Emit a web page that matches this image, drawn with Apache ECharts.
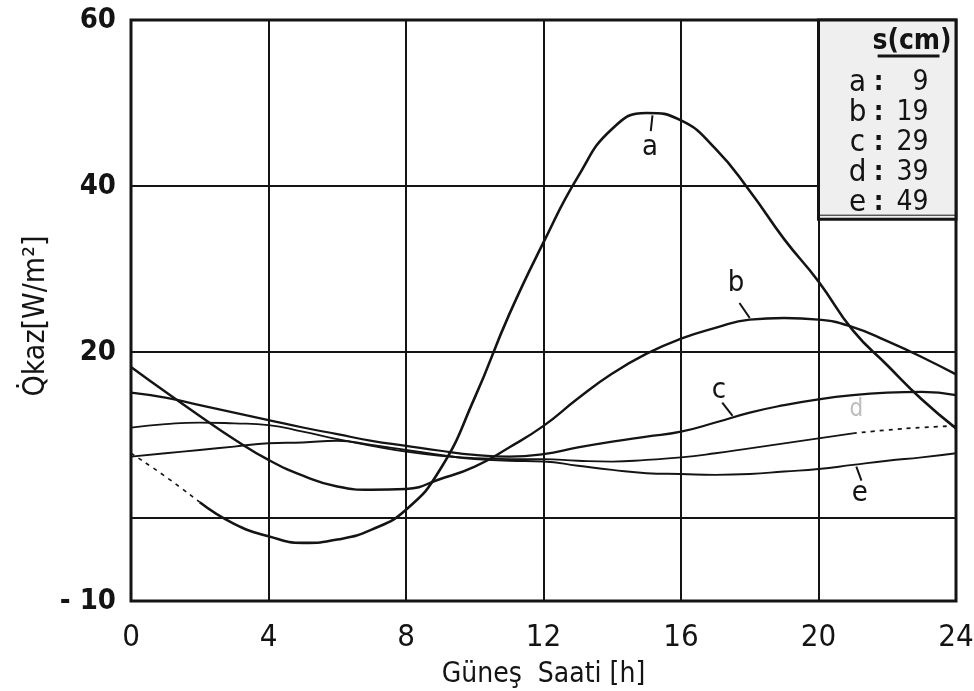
<!DOCTYPE html>
<html>
<head>
<meta charset="utf-8">
<script src="https://cdn.jsdelivr.net/npm/echarts@6/dist/echarts.min.js"></script>
<style>
html,body{margin:0;padding:0;background:#fff;}
#c{width:974px;height:691px;}
</style>
</head>
<body>
<div id="c"></div>
<script>
// ---- data ----
const hours = [0,1,2,3,4,5,6,7,8,9,10,11,12,13,14,15,16,17,18,19,20,21,22,23,24];
const qa = [7.8,5.0,1.9,-0.7,-2.2,-3.0,-2.6,-1.4,1.0,5.9,14.5,24.5,33.2,41.1,46.9,48.8,47.9,44.5,39.4,33.6,28.5,22.6,18.4,14.3,10.8];
const qb = [18.2,15.2,12.3,9.5,7.0,5.1,3.8,3.4,3.5,4.7,6.2,8.5,11.1,14.4,17.4,19.8,21.6,22.9,23.9,24.1,23.9,23.0,21.3,19.4,17.3];
const qc = [15.1,14.5,13.6,12.7,11.8,10.9,10.1,9.3,8.7,8.1,7.6,7.4,7.7,8.5,9.2,9.8,10.4,11.5,12.7,13.6,14.3,14.8,15.1,15.2,14.8];
const qd = [10.9,11.3,11.5,11.4,11.2,10.4,9.5,8.7,8.0,7.5,7.2,7.1,7.1,6.9,6.8,7.0,7.3,7.8,8.4,9.0,9.6,10.2,10.6,10.9,11.1];
const qe = [7.4,7.8,8.2,8.6,9.0,9.1,9.3,8.8,8.2,7.6,7.1,6.9,6.8,6.3,5.8,5.4,5.3,5.2,5.3,5.6,5.9,6.4,6.9,7.3,7.8];
const xTicks = [0,4,8,12,16,20,24];
const yTickLabels = {'60':'60','40':'40','20':'20','-10':'- 10'};
const legendTitle = 's(cm)';
const legendRows = [['a','9'],['b','19'],['c','29'],['d','39'],['e','49']];
const xName = 'Güneş  Saati [h]';
const yName = 'Q\u0307kaz[W/m\u00B2]';

// ---- build ----
const FONT = "'DejaVu Sans Condensed','Liberation Sans Narrow','DejaVu Sans',sans-serif";
const NARROW = "'Liberation Sans Narrow','DejaVu Sans Condensed',sans-serif";
const INK = '#141414';
function pts(arr, from, to){
  const out=[];
  for(let i=0;i<hours.length;i++){ if(hours[i]>=from && hours[i]<=to) out.push([hours[i],arr[i]]); }
  return out;
}
function line(name, data, dashed, w){
  return {name, type:'line', data, smooth:0.5, symbol:'none', z:5,
    lineStyle:{color:INK, width:w||2.2, type: dashed?[4,5]:'solid'}};
}
const chart = echarts.init(document.getElementById('c'), null, {renderer:'canvas'});
chart.setOption({
  animation:false,
  backgroundColor:'#fff',
  grid:{left:131, right:18, top:20, bottom:90, show:true, borderColor:INK, borderWidth:3,
    backgroundColor:'transparent', containLabel:false, outerBoundsMode:'none'},
  xAxis:{type:'value', min:0, max:24, interval:4,
    axisLine:{show:false}, axisTick:{show:false},
    axisLabel:{fontFamily:NARROW, fontSize:31, color:INK, margin:21,
      formatter:v=> xTicks.indexOf(v)>=0 ? String(v) : ''},
    splitLine:{show:true, lineStyle:{color:INK, width:2}},
    name:xName, nameLocation:'middle', nameGap:60,
    nameTextStyle:{fontFamily:FONT, fontSize:28, color:INK}},
  yAxis:{type:'value', min:-10, max:60, interval:10,
    axisLine:{show:false}, axisTick:{show:false},
    axisLabel:{fontFamily:FONT, fontSize:29, fontWeight:'bold', color:INK, margin:15,
      formatter:v=> yTickLabels[String(v)] || ''},
    splitLine:{show:true, lineStyle:{color:['rgba(0,0,0,0)',INK], width:2}}},
  series:[
    line('a-dash', pts(qa,0,2), true, 1.6),
    line('a', pts(qa,2,24), false, 2.6),
    line('b', qb.map((v,i)=>[hours[i],v]), false, 2.4),
    line('c', qc.map((v,i)=>[hours[i],v]), false, 2.2),
    line('d', pts(qd,0,21), false, 1.8),
    line('d-dash', pts(qd,21,24), true, 1.8),
    line('e', qe.map((v,i)=>[hours[i],v]), false, 1.9)
  ]
});

// annotations (curve letters with leader lines), in data coordinates
const notes = [
  {t:'a', at:[15.1,44.6], lead:[[15.17,48.5],[15.12,46.6]]},
  {t:'b', at:[17.6,28.3], lead:[[17.7,25.9],[18.0,24.1]]},
  {t:'c', at:[17.1,15.4], lead:[[17.2,13.9],[17.5,12.3]]},
  {t:'e', at:[21.2,3.0], lead:[[21.25,4.5],[21.1,6.2]]}
];
const P = p => chart.convertToPixel({gridIndex:0}, p);
const g = [];
notes.forEach(n=>{
  const c = P(n.at);
  g.push({type:'text', x:c[0], y:c[1], z:20,
    style:{text:n.t, font:"29px "+FONT, fill:INK, textAlign:'center', textVerticalAlign:'middle'}});
  const a=P(n.lead[0]), b=P(n.lead[1]);
  g.push({type:'line', z:20, shape:{x1:a[0],y1:a[1],x2:b[0],y2:b[1]}, style:{stroke:INK, lineWidth:2}});
});
// faint dotted "d" label
const dp = P([21.1,13.0]);
g.push({type:'text', x:dp[0], y:dp[1], z:20,
  style:{text:'d', font:"24px "+FONT, fill:'#bdbdbd', textAlign:'center', textVerticalAlign:'middle'}});

// legend box
const tl = P([20,60]), br = P([24,36]);
const bx = tl[0], by = tl[1], bw = br[0]-tl[0], bh = br[1]-tl[1];
g.push({type:'rect', z:30, shape:{x:bx, y:by, width:bw, height:bh},
  style:{fill:'#efefef', stroke:INK, lineWidth:3}});
g.push({type:'line', z:31, shape:{x1:bx, y1:by+bh-4, x2:bx+bw, y2:by+bh-4}, style:{stroke:INK, lineWidth:1}});
g.push({type:'text', z:32, x:bx+bw*0.68, y:by+22,
  style:{text:legendTitle, font:"bold 28px "+FONT, fill:INK, textAlign:'center', textVerticalAlign:'middle'}});
g.push({type:'line', z:32, shape:{x1:bx+bw*0.43, y1:by+36, x2:bx+bw*0.88, y2:by+36}, style:{stroke:INK, lineWidth:3}});
legendRows.forEach((r,i)=>{
  const yy = by + 63 + i*30;
  g.push({type:'text', z:32, x:bx+39, y:yy,
    style:{text:r[0], font:"31px "+FONT, fill:INK, textAlign:'center', textVerticalAlign:'middle'}});
  g.push({type:'text', z:32, x:bx+60, y:yy,
    style:{text:':', font:"bold 27px "+FONT, fill:INK, textAlign:'center', textVerticalAlign:'middle'}});
  g.push({type:'text', z:32, x:bx+110, y:yy,
    style:{text:r[1], font:"28px "+FONT, fill:INK, textAlign:'right', textVerticalAlign:'middle'}});
});
// y axis title
g.push({type:'text', z:20, x:36, y:316, rotation:Math.PI/2,
  style:{text:yName, font:"30px "+FONT, fill:INK, textAlign:'center', textVerticalAlign:'middle'}});
chart.setOption({graphic:g});
</script>
</body>
</html>
